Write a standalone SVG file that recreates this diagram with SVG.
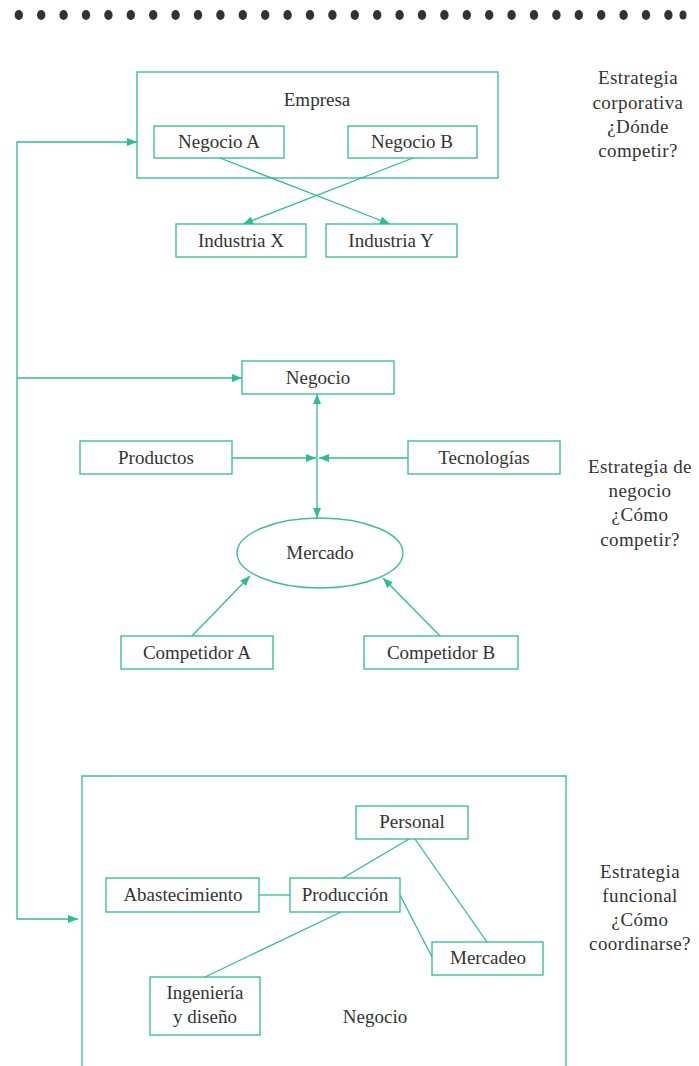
<svg xmlns="http://www.w3.org/2000/svg" width="699" height="1066" viewBox="0 0 699 1066">
<style>
.b{fill:none;stroke:#3dbf9f;stroke-width:1.4}
.c{fill:none;stroke:#2fbb98;stroke-width:1.3}
.t{font-family:"Liberation Serif",serif;font-size:19px;fill:#333;text-anchor:middle}
.s{font-family:"Liberation Serif",serif;font-size:19px;fill:#333;text-anchor:middle;letter-spacing:0.4px}
.d{fill:#333}
</style>
<defs>
<marker id="ah" viewBox="0 0 10 8" refX="10" refY="4" markerWidth="10" markerHeight="8" markerUnits="userSpaceOnUse" orient="auto-start-reverse">
<path d="M0,0 L10,4 L0,8 Z" fill="#2fbb98"/>
</marker>
</defs>
<rect width="699" height="1066" fill="#fff"/>
<g id="dots">
<ellipse class="d" cx="18.8" cy="15" rx="4.2" ry="5"/><ellipse class="d" cx="41.2" cy="15" rx="4.2" ry="5"/><ellipse class="d" cx="63.6" cy="15" rx="4.2" ry="5"/><ellipse class="d" cx="86" cy="15" rx="4.2" ry="5"/><ellipse class="d" cx="108.4" cy="15" rx="4.2" ry="5"/><ellipse class="d" cx="130.8" cy="15" rx="4.2" ry="5"/><ellipse class="d" cx="153.2" cy="15" rx="4.2" ry="5"/><ellipse class="d" cx="175.6" cy="15" rx="4.2" ry="5"/><ellipse class="d" cx="198" cy="15" rx="4.2" ry="5"/><ellipse class="d" cx="220.4" cy="15" rx="4.2" ry="5"/><ellipse class="d" cx="242.8" cy="15" rx="4.2" ry="5"/><ellipse class="d" cx="265.2" cy="15" rx="4.2" ry="5"/><ellipse class="d" cx="287.6" cy="15" rx="4.2" ry="5"/><ellipse class="d" cx="310" cy="15" rx="4.2" ry="5"/><ellipse class="d" cx="332.4" cy="15" rx="4.2" ry="5"/><ellipse class="d" cx="354.8" cy="15" rx="4.2" ry="5"/><ellipse class="d" cx="377.2" cy="15" rx="4.2" ry="5"/><ellipse class="d" cx="399.6" cy="15" rx="4.2" ry="5"/><ellipse class="d" cx="422" cy="15" rx="4.2" ry="5"/><ellipse class="d" cx="444.4" cy="15" rx="4.2" ry="5"/><ellipse class="d" cx="466.8" cy="15" rx="4.2" ry="5"/><ellipse class="d" cx="489.2" cy="15" rx="4.2" ry="5"/><ellipse class="d" cx="511.6" cy="15" rx="4.2" ry="5"/><ellipse class="d" cx="534" cy="15" rx="4.2" ry="5"/><ellipse class="d" cx="556.4" cy="15" rx="4.2" ry="5"/><ellipse class="d" cx="578.8" cy="15" rx="4.2" ry="5"/><ellipse class="d" cx="601.2" cy="15" rx="4.2" ry="5"/><ellipse class="d" cx="623.6" cy="15" rx="4.2" ry="5"/><ellipse class="d" cx="646" cy="15" rx="4.2" ry="5"/><ellipse class="d" cx="668.4" cy="15" rx="4.2" ry="5"/><ellipse class="d" cx="683" cy="15" rx="3.5" ry="4.5"/>
</g>
<g id="empresa"><rect class="b" x="137" y="72" width="361" height="106"/><text class="t" x="317" y="106">Empresa</text></g>
<g id="negocioA"><rect class="b" x="154" y="126" width="130" height="32"/><text class="t" x="219" y="148">Negocio A</text></g>
<g id="negocioB"><rect class="b" x="348" y="126" width="129" height="32"/><text class="t" x="412" y="148">Negocio B</text></g>
<g id="industriaX"><rect class="b" x="176" y="224" width="130" height="33"/><text class="t" x="241" y="247">Industria X</text></g>
<g id="industriaY"><rect class="b" x="326" y="224" width="131" height="33"/><text class="t" x="391" y="247">Industria Y</text></g>
<g id="label1"><text class="s" x="638" y="84">Estrategia</text><text class="s" x="638" y="109">corporativa</text><text class="s" x="638" y="133">¿Dónde</text><text class="s" x="638" y="157">competir?</text></g>
<g id="negocio"><rect class="b" x="242" y="361" width="152" height="33"/><text class="t" x="318" y="384">Negocio</text></g>
<g id="productos"><rect class="b" x="80" y="441" width="152" height="33"/><text class="t" x="156" y="464">Productos</text></g>
<g id="tecnologias"><rect class="b" x="408" y="441" width="152" height="33"/><text class="t" x="484" y="464">Tecnologías</text></g>
<g id="mercado"><ellipse class="b" cx="320" cy="553" rx="83" ry="35"/><text class="t" x="320" y="559">Mercado</text></g>
<g id="competidorA"><rect class="b" x="121" y="636" width="152" height="33"/><text class="t" x="197" y="659">Competidor A</text></g>
<g id="competidorB"><rect class="b" x="364" y="636" width="154" height="33"/><text class="t" x="441" y="659">Competidor B</text></g>
<g id="label2"><text class="s" x="640" y="473">Estrategia de</text><text class="s" x="640" y="497">negocio</text><text class="s" x="640" y="521">¿Cómo</text><text class="s" x="640" y="546">competir?</text></g>
<g id="negocioFuncional"><path class="b" d="M82,1066 L82,776 L566,776 L566,1066"/><text class="t" x="375" y="1023">Negocio</text></g>
<g id="personal"><rect class="b" x="356" y="806" width="112" height="33"/><text class="t" x="412" y="828">Personal</text></g>
<g id="abastecimiento"><rect class="b" x="106" y="878" width="153" height="34"/><text class="t" x="183" y="901">Abastecimiento</text></g>
<g id="produccion"><rect class="b" x="290" y="878" width="110" height="34"/><text class="t" x="345" y="901">Producción</text></g>
<g id="mercadeo"><rect class="b" x="432" y="942" width="111" height="33"/><text class="t" x="488" y="964">Mercadeo</text></g>
<g id="ingenieria"><rect class="b" x="150" y="977" width="110" height="58"/><text class="t" x="205" y="999">Ingeniería</text><text class="t" x="205" y="1023">y diseño</text></g>
<g id="label3"><text class="s" x="640" y="878">Estrategia</text><text class="s" x="640" y="902">funcional</text><text class="s" x="640" y="926">¿Cómo</text><text class="s" x="640" y="950">coordinarse?</text></g>
<g id="connectors">
<path class="c" d="M137,142 L17,142 L17,919 L78,919" marker-start="url(#ah)" marker-end="url(#ah)"/>
<line class="c" x1="17" y1="378" x2="242" y2="378" marker-end="url(#ah)"/>
<line class="c" x1="220" y1="158" x2="390" y2="224" marker-end="url(#ah)"/>
<line class="c" x1="413" y1="158" x2="243" y2="224" marker-end="url(#ah)"/>
<line class="c" x1="317" y1="394" x2="317" y2="518" marker-start="url(#ah)" marker-end="url(#ah)"/>
<line class="c" x1="232" y1="458" x2="316" y2="458" marker-end="url(#ah)"/>
<line class="c" x1="408" y1="458" x2="319" y2="458" marker-end="url(#ah)"/>
<line class="c" x1="192" y1="636" x2="250" y2="576" marker-end="url(#ah)"/>
<line class="c" x1="440" y1="636" x2="383" y2="578" marker-end="url(#ah)"/>
<line class="c" x1="259" y1="895" x2="290" y2="895"/>
<line class="c" x1="343" y1="878" x2="409" y2="839"/>
<line class="c" x1="415" y1="839" x2="487" y2="942"/>
<line class="c" x1="400" y1="895" x2="432" y2="957"/>
<line class="c" x1="341" y1="912" x2="205" y2="977"/>
</g>
</svg>
